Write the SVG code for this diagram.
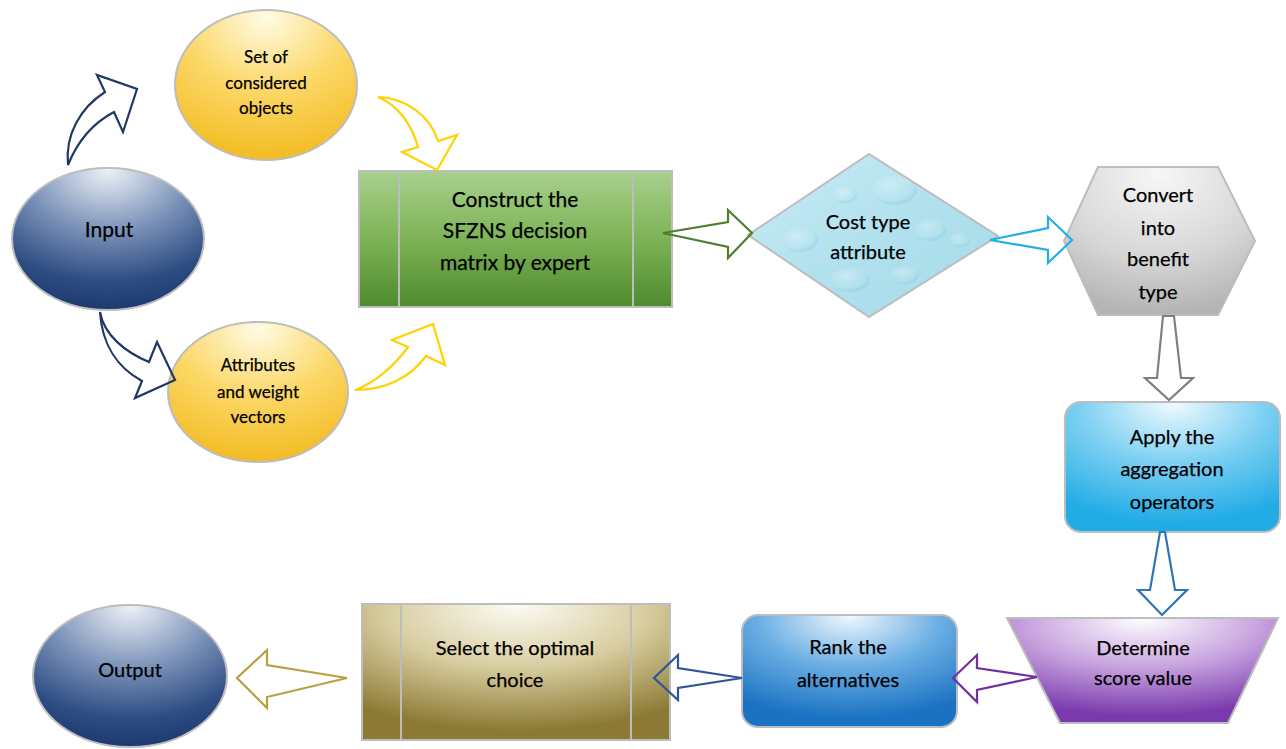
<svg xmlns="http://www.w3.org/2000/svg" width="1286" height="749" viewBox="0 0 1286 749">
<defs>
<radialGradient id="gNavy" cx="50%" cy="5%" r="95%" fx="50%" fy="0%">
<stop offset="0" stop-color="#f0f3f8"/><stop offset="0.45" stop-color="#7a91b8"/><stop offset="0.8" stop-color="#2e4d83"/><stop offset="1" stop-color="#1d3a70"/>
</radialGradient>
<radialGradient id="gYellow" cx="50%" cy="10%" r="90%" fx="50%" fy="5%">
<stop offset="0" stop-color="#fffbe6"/><stop offset="0.5" stop-color="#fcd868"/><stop offset="1" stop-color="#f3bb22"/>
</radialGradient>
<linearGradient id="gGreen" x1="0" y1="0" x2="0" y2="1">
<stop offset="0" stop-color="#a9d08e"/><stop offset="0.5" stop-color="#7db356"/><stop offset="1" stop-color="#4f8a2e"/>
</linearGradient>
<linearGradient id="gWater" x1="0" y1="0" x2="1" y2="1">
<stop offset="0" stop-color="#c9ecf5"/><stop offset="0.5" stop-color="#b2e1ee"/><stop offset="1" stop-color="#a5d9e8"/>
</linearGradient>
<radialGradient id="gDrop" cx="40%" cy="35%" r="60%">
<stop offset="0" stop-color="#ffffff" stop-opacity="0.3"/><stop offset="0.7" stop-color="#d9f3fa" stop-opacity="0.12"/><stop offset="1" stop-color="#7fc6dc" stop-opacity="0.3"/>
</radialGradient>
<radialGradient id="gGray" cx="50%" cy="10%" r="90%" fx="50%" fy="5%">
<stop offset="0" stop-color="#f7f7f7"/><stop offset="0.6" stop-color="#d6d6d6"/><stop offset="1" stop-color="#b3b3b3"/>
</radialGradient>
<radialGradient id="gCyan" cx="50%" cy="8%" r="85%" fx="50%" fy="0%">
<stop offset="0" stop-color="#f2fbff"/><stop offset="0.5" stop-color="#7ed0f2"/><stop offset="1" stop-color="#22ace6"/>
</radialGradient>
<radialGradient id="gPurple" cx="50%" cy="8%" r="85%" fx="50%" fy="0%">
<stop offset="0" stop-color="#ffffff"/><stop offset="0.5" stop-color="#c8a4df"/><stop offset="1" stop-color="#7a3aac"/>
</radialGradient>
<radialGradient id="gBlue" cx="50%" cy="8%" r="85%" fx="50%" fy="0%">
<stop offset="0" stop-color="#f2f8fd"/><stop offset="0.5" stop-color="#6aaee3"/><stop offset="1" stop-color="#1a72c2"/>
</radialGradient>
<radialGradient id="gGold" cx="50%" cy="8%" r="85%" fx="50%" fy="0%">
<stop offset="0" stop-color="#fdfcf6"/><stop offset="0.5" stop-color="#d8cda0"/><stop offset="1" stop-color="#8c7a34"/>
</radialGradient>
<clipPath id="clipDiamond"><polygon points="748,235 869,154 998,236 869,317"/></clipPath>
<style>
.node{stroke:#bdbdbd;stroke-width:2}
.div{stroke:#bdbdbd;stroke-width:2}
.t{font-family:Lato,"Liberation Sans",Arial,sans-serif;fill:#000;stroke:#000;stroke-width:0.25;text-anchor:middle}
.s17{font-size:17px}
.s20{font-size:20px}
.s21{font-size:21px}
.arr{fill:none;stroke-width:2.2;stroke-linejoin:miter}
</style>
</defs>
<rect width="1286" height="749" fill="#ffffff"/>

<g id="input">
<ellipse cx="108" cy="239" rx="96" ry="71" fill="url(#gNavy)" class="node"/>
<text class="t s21" x="109" y="237">Input</text>
</g>

<g id="set-objects">
<ellipse cx="266" cy="85" rx="91" ry="75" fill="url(#gYellow)" class="node"/>
<text class="t s17" x="266" y="63">Set of</text>
<text class="t s17" x="266" y="89">considered</text>
<text class="t s17" x="266" y="114">objects</text>
</g>

<g id="attributes">
<ellipse cx="258" cy="392" rx="90" ry="70" fill="url(#gYellow)" class="node"/>
<text class="t s17" x="258" y="371">Attributes</text>
<text class="t s17" x="258" y="398">and weight</text>
<text class="t s17" x="258" y="423">vectors</text>
</g>

<g id="construct">
<rect x="359" y="171" width="313" height="136" fill="url(#gGreen)" class="node"/>
<line x1="399" y1="171" x2="399" y2="307" class="div"/>
<line x1="633" y1="171" x2="633" y2="307" class="div"/>
<text class="t s21" x="515" y="207">Construct the</text>
<text class="t s21" x="515" y="238">SFZNS decision</text>
<text class="t s21" x="515" y="270">matrix by expert</text>
</g>

<g id="cost-type">
<polygon points="748,235 869,154 998,236 869,317" fill="url(#gWater)"/>
<g clip-path="url(#clipDiamond)">
<ellipse cx="895" cy="190" rx="22" ry="15" fill="url(#gDrop)"/>
<ellipse cx="800" cy="240" rx="18" ry="12" fill="url(#gDrop)"/>
<ellipse cx="930" cy="230" rx="16" ry="11" fill="url(#gDrop)"/>
<ellipse cx="850" cy="280" rx="20" ry="12" fill="url(#gDrop)"/>
<ellipse cx="905" cy="275" rx="14" ry="9" fill="url(#gDrop)"/>
<ellipse cx="845" cy="195" rx="12" ry="8" fill="url(#gDrop)"/>
<ellipse cx="960" cy="240" rx="10" ry="7" fill="url(#gDrop)"/>
</g>
<polygon points="748,235 869,154 998,236 869,317" fill="none" class="node"/>
<text class="t s20" x="868" y="229">Cost type</text>
<text class="t s20" x="868" y="259">attribute</text>
</g>

<g id="convert">
<polygon points="1098,167 1218,167 1255,241 1218,315 1098,315 1064,241" fill="url(#gGray)" class="node"/>
<text class="t s20" x="1158" y="202">Convert</text>
<text class="t s20" x="1158" y="235">into</text>
<text class="t s20" x="1158" y="266">benefit</text>
<text class="t s20" x="1158" y="299">type</text>
</g>

<g id="apply">
<rect x="1065" y="402" width="215" height="130" rx="16" fill="url(#gCyan)" class="node"/>
<text class="t s20" x="1172" y="444">Apply the</text>
<text class="t s20" x="1172" y="476">aggregation</text>
<text class="t s20" x="1172" y="509">operators</text>
</g>

<g id="determine">
<polygon points="1007,618 1278,618 1228,723 1060,723" fill="url(#gPurple)" class="node"/>
<text class="t s20" x="1143" y="655">Determine</text>
<text class="t s20" x="1143" y="685">score value</text>
</g>

<g id="rank">
<rect x="742" y="615" width="215" height="112" rx="16" fill="url(#gBlue)" class="node"/>
<text class="t s20" x="848" y="654">Rank the</text>
<text class="t s20" x="848" y="687">alternatives</text>
</g>

<g id="select">
<rect x="362" y="604" width="308" height="136" fill="url(#gGold)" class="node"/>
<line x1="401" y1="604" x2="401" y2="740" class="div"/>
<line x1="631" y1="604" x2="631" y2="740" class="div"/>
<text class="t s20" x="515" y="655">Select the optimal</text>
<text class="t s20" x="515" y="687">choice</text>
</g>

<g id="output">
<ellipse cx="130" cy="676" rx="97" ry="71" fill="url(#gNavy)" class="node"/>
<text class="t s20" x="130" y="677">Output</text>
</g>

<g id="connectors">
<path class="arr" stroke="#1f3864" d="M68,165 C65,135 80,108 105,92 L97,75 L137,89 L123,132 L114,112 C95,122 78,140 68,165 Z"/>
<path class="arr" stroke="#1f3864" d="M100,312 C104,335 125,352 149,362 L157,342 L175,380 L135,398 L142,381 C118,368 102,345 100,312 Z"/>
<path class="arr" stroke="#ffd200" d="M378,97 C405,98 430,115 438,141 L457,135 L437,170 L402,152 L418,147 C412,125 398,105 378,97 Z"/>
<path class="arr" stroke="#ffd200" d="M355,390 C375,383 395,365 408,347 L392,340 L433,324 L445,365 L426,356 C410,378 385,390 355,390 Z"/>
<path class="arr" stroke="#4e7f2e" d="M663,233 L728,222 L728,210 L752,233 L728,258 L728,247 Z"/>
<path class="arr" stroke="#20b0e8" d="M990,240 L1048,228 L1048,217 L1072,240 L1048,263 L1048,250 Z"/>
<path class="arr" stroke="#7f7f7f" d="M1163,316 L1174,316 L1181,378 L1193,378 L1169,400 L1145,378 L1157,378 Z"/>
<path class="arr" stroke="#2e75b6" d="M1160,532 L1165,532 L1175,590 L1187,590 L1162,615 L1138,590 L1150,590 Z"/>
<path class="arr" stroke="#7030a0" d="M1037,677 L977,668 L977,655 L953,678 L977,702 L977,690 Z"/>
<path class="arr" stroke="#2f5597" d="M742,678 L678,668 L678,655 L654,678 L678,700 L678,688 Z"/>
<path class="arr" stroke="#b8a040" d="M347,678 L267,665 L267,650 L237,678 L267,708 L267,697 Z"/>
</g>
</svg>
